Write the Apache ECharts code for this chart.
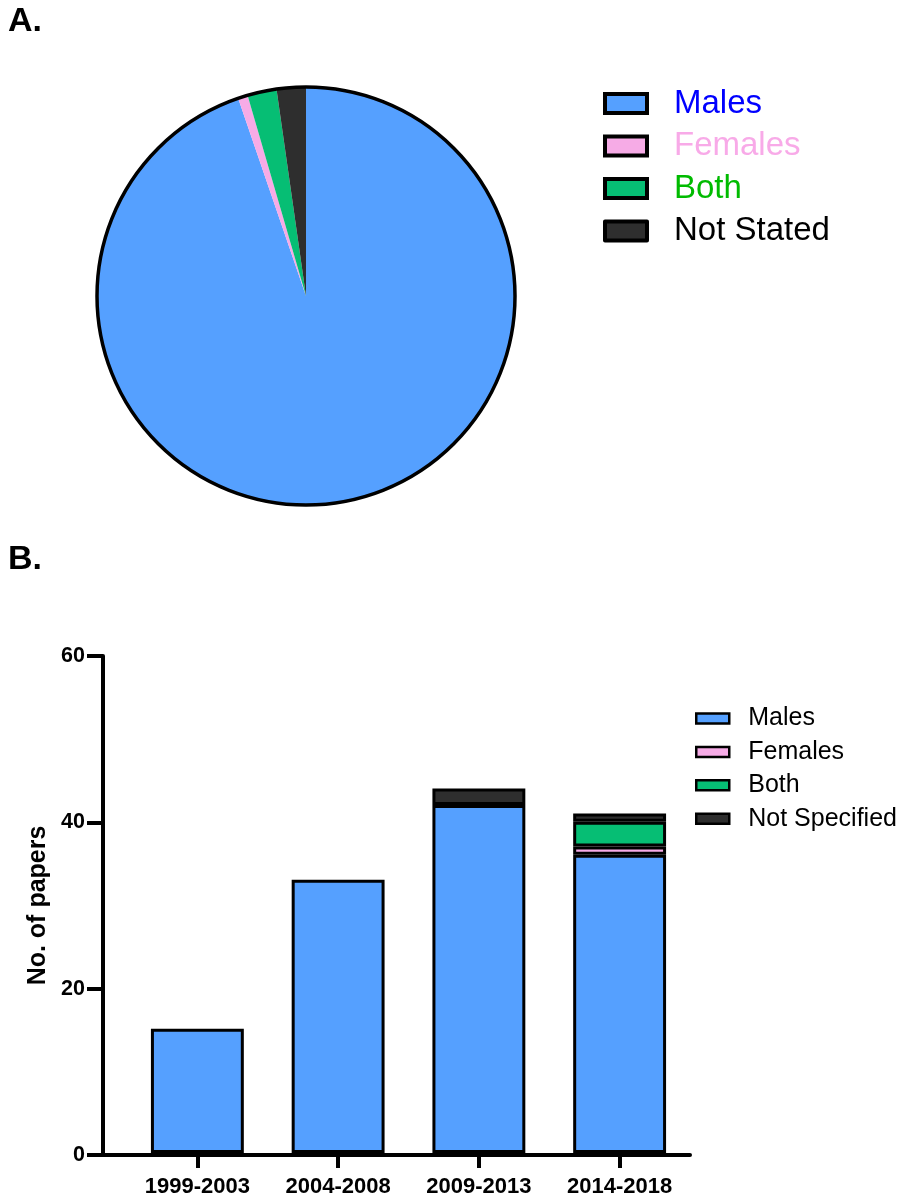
<!DOCTYPE html>
<html>
<head>
<meta charset="utf-8">
<script src="https://cdn.jsdelivr.net/npm/echarts@6/dist/echarts.min.js"></script>
<style>
  html, body { margin: 0; padding: 0; background: #fff; }
  #chart { width: 902px; height: 1198px; }
</style>
</head>
<body>
<div id="chart"></div>
<script>
// Panel A: participants' sex across all papers
const pieNames = ['Males', 'Females', 'Both', 'Not Stated'];
const pieValues = [126, 1, 3, 3];

// Panel B: papers per period, stacked by sex
const periods = ['1999-2003', '2004-2008', '2009-2013', '2014-2018'];
const barNames = ['Males', 'Females', 'Both', 'Not Specified'];
const malesCounts = [15, 33, 42, 36];
const femalesCounts = [0, 0, 0, 1];
const bothCounts = [0, 0, 0, 3];
const notSpecifiedCounts = [0, 0, 2, 1];
const yTicks = [0, 20, 40, 60];

const fills = ['#55A0FF', '#F6ABE6', '#06BE74', '#2E2E2E'];
const pieTextColors = ['#0000FF', '#F8AAE8', '#00BB00', '#000000'];
const FONT = '"Liberation Sans", Arial, Helvetica, sans-serif';

const chart = echarts.init(document.getElementById('chart'), null, { renderer: 'canvas' });

const barSeriesData = [malesCounts, femalesCounts, bothCounts, notSpecifiedCounts];

const barSeries = barNames.map((name, i) => ({
  name: name,
  type: 'bar',
  stack: 'papers',
  xAxisIndex: 0,
  yAxisIndex: 0,
  barWidth: '66%',
  data: barSeriesData[i].map(v => (v === 0 ? '-' : v)),
  itemStyle: { color: fills[i], borderColor: '#000', borderWidth: 3 },
  emphasis: { disabled: true },
  silent: true
}));

const option = {
  animation: false,
  backgroundColor: '#fff',
  title: [
    { text: 'A.', left: 3, top: 0, textStyle: { fontFamily: FONT, fontWeight: 'bold', fontSize: 34, color: '#000' } },
    { text: 'B.', left: 3, top: 538, textStyle: { fontFamily: FONT, fontWeight: 'bold', fontSize: 34, color: '#000' } }
  ],
  legend: [
    {
      orient: 'vertical',
      left: 598,
      top: 82,
      itemWidth: 42,
      itemHeight: 19,
      itemGap: 9.5,
      icon: 'rect',
      itemStyle: { borderColor: '#000', borderWidth: 4 },
      selectedMode: false,
      textStyle: { fontFamily: FONT, fontSize: 33, lineHeight: 32, padding: [0, 0, 0, 22] },
      data: pieNames.map((n, i) => ({ name: n, textStyle: { color: pieTextColors[i] } }))
    },
    {
      orient: 'vertical',
      left: 690,
      top: 701,
      itemWidth: 33,
      itemHeight: 10,
      itemGap: 8.4,
      icon: 'rect',
      itemStyle: { borderColor: '#000', borderWidth: 2.5 },
      selectedMode: false,
      textStyle: { fontFamily: FONT, fontSize: 25, lineHeight: 25, color: '#000', padding: [0, 0, 0, 14] },
      data: barNames.map(n => ({ name: n }))
    }
  ],
  grid: [
    { left: 127, width: 563, top: 656, height: 499, containLabel: false },
    { left: 103, width: 587, top: 656, height: 499, containLabel: false }
  ],
  xAxis: [
    {
      type: 'category',
      gridIndex: 0,
      data: periods,
      axisLine: { show: false },
      axisTick: { show: true, alignWithLabel: true, length: 15, lineStyle: { color: '#000', width: 4 } },
      axisLabel: { margin: 23, fontFamily: FONT, fontWeight: 'bold', fontSize: 22, color: '#000' }
    },
    {
      type: 'value',
      gridIndex: 1,
      min: 0,
      max: 1,
      axisLine: { show: true, onZero: false, lineStyle: { color: '#000', width: 4 } },
      axisTick: { show: false },
      axisLabel: { show: false },
      splitLine: { show: false }
    }
  ],
  yAxis: [
    {
      type: 'value',
      gridIndex: 0,
      min: yTicks[0],
      max: yTicks[yTicks.length - 1],
      interval: 20,
      show: false,
      splitLine: { show: false }
    },
    {
      type: 'value',
      gridIndex: 1,
      min: yTicks[0],
      max: yTicks[yTicks.length - 1],
      interval: 20,
      name: 'No. of papers',
      nameLocation: 'middle',
      nameRotate: 90,
      nameGap: 52,
      nameTextStyle: { fontFamily: FONT, fontWeight: 'bold', fontSize: 25, color: '#000' },
      axisLine: { show: true, lineStyle: { color: '#000', width: 4 } },
      axisTick: { show: true, length: 16, lineStyle: { color: '#000', width: 4 } },
      axisLabel: { margin: 18, fontFamily: FONT, fontWeight: 'bold', fontSize: 21.5, color: '#000' },
      splitLine: { show: false }
    }
  ],
  series: [
    {
      name: 'Sex of participants',
      type: 'pie',
      center: [306, 296],
      radius: 209,
      startAngle: 90,
      clockwise: true,
      label: { show: false },
      labelLine: { show: false },
      emphasis: { disabled: true },
      silent: true,
      data: pieNames.map((n, i) => ({ name: n, value: pieValues[i], itemStyle: { color: fills[i], borderWidth: 0 } }))
    },
    {
      // outer rim of the pie
      name: 'rim',
      type: 'pie',
      center: [306, 296],
      radius: 209,
      label: { show: false },
      labelLine: { show: false },
      emphasis: { disabled: true },
      silent: true,
      itemStyle: { color: 'rgba(0,0,0,0)', borderColor: '#000', borderWidth: 3.5 },
      data: [{ name: 'rim', value: 1 }]
    },
    ...barSeries
  ]
};

chart.setOption(option);
</script>
</body>
</html>
